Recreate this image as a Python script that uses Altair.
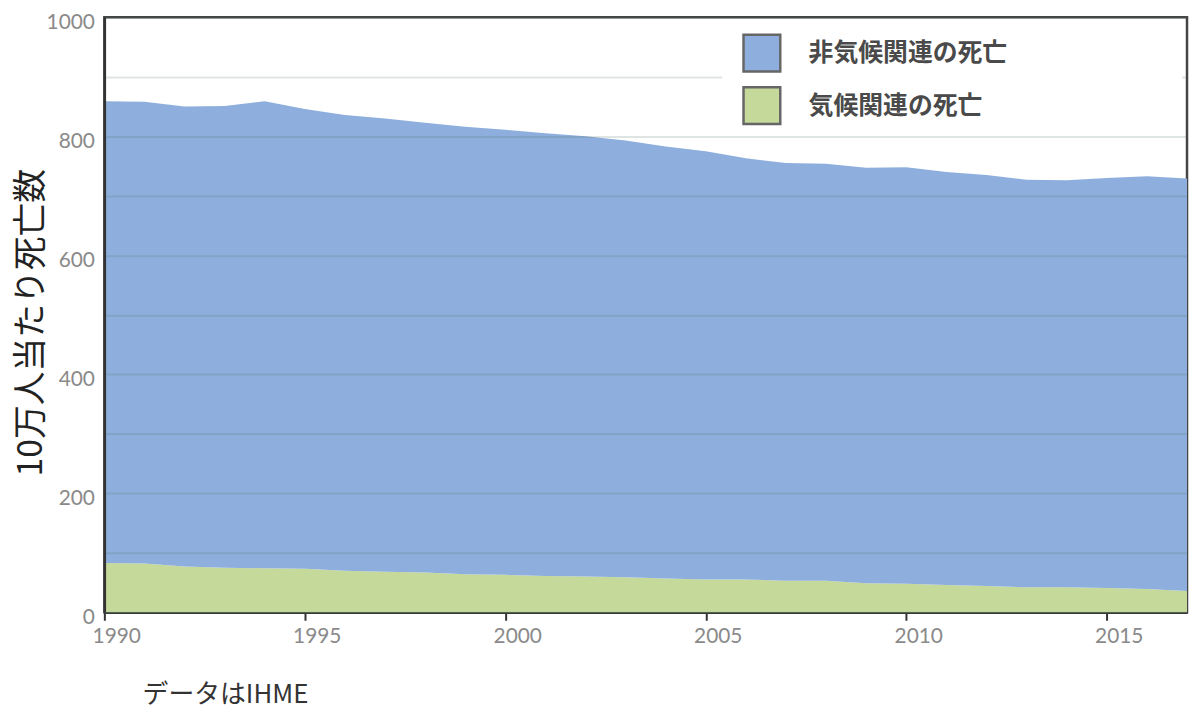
import altair as alt
import pandas as pd

years = list(range(1990, 2018))
non_climate = [776, 776, 773, 776, 785, 773, 766, 762, 756, 752, 748, 744, 740, 734,
               726, 720, 708, 702, 701, 698, 700, 694, 691, 685, 684, 689, 694, 693]
climate = [83, 82, 77, 75, 74, 73, 70, 68, 67, 64, 63, 61, 60, 59,
           57, 55, 55, 53, 53, 49, 48, 46, 44, 42, 42, 41, 39, 36]
series_names = ["非気候関連の死亡", "気候関連の死亡"]
series_colors = ["#8EAFDD", "#C5D99B"]
x_ticks = [1990, 1995, 2000, 2005, 2010, 2015]
y_ticks = list(range(0, 1001, 100))

rows = []
for i, y in enumerate(years):
    rows.append({"year": y, "series": series_names[1], "value": climate[i], "rank": 0})
    rows.append({"year": y, "series": series_names[0], "value": non_climate[i], "rank": 1})
df = pd.DataFrame(rows)

pad = "  " + "\u2800" * 9

chart = alt.Chart(df).mark_area(opacity=1).encode(
    x=alt.X("year:Q",
            scale=alt.Scale(domain=[1990, 2017], nice=False, zero=False),
            axis=alt.Axis(values=x_ticks, format="d", grid=False, labelFlush=False,
                          tickSize=8, tickWidth=2, tickColor="#333",
                          domainColor="#333", domainWidth=2.5,
                          labelColor="#8a8a8a", labelFontSize=21, labelFont="Lato",
                          labelPadding=5, labelOffset=12,
                          title="データはIHME", titleX=38, titleY=83,
                          titleAlign="left", titleBaseline="middle", titleAngle=0,
                          titleFont="Noto Sans CJK JP", titleFontSize=26,
                          titleFontWeight="normal", titleColor="#333")),
    y=alt.Y("value:Q", stack="zero",
            scale=alt.Scale(domain=[0, 1000], nice=False),
            axis=alt.Axis(values=y_ticks, format="d",
                          labelExpr="datum.value % 200 == 0 ? datum.label : ''",
                          grid=True, gridColor="#4f7060", gridOpacity=0.18, gridWidth=2,
                          ticks=False, domainColor="#333", domainWidth=2.5,
                          labelColor="#8a8a8a", labelFontSize=21, labelFont="Lato",
                          labelPadding=10, labelOffset=5, zindex=1,
                          title="10万人当たり死亡数", titleX=-73, titleY=307,
                          titleAngle=270, titleAlign="center", titleBaseline="middle",
                          titleFont="Noto Sans CJK JP", titleFontSize=34,
                          titleFontWeight="normal", titleColor="#222")),
    color=alt.Color("series:N",
                    scale=alt.Scale(domain=series_names, range=series_colors),
                    legend=alt.Legend(title=None, orient="none", legendX=622, legendY=14,
                                      fillColor="white", padding=2, zindex=2,
                                      symbolType="square", symbolSize=1369,
                                      symbolStrokeColor="#666", symbolStrokeWidth=2.5,
                                      symbolOpacity=1, symbolOffset=18,
                                      labelOffset=27, rowPadding=5,
                                      labelFont="Noto Sans CJK JP", labelFontSize=25,
                                      labelFontWeight="bold", labelColor="#4a4a4a",
                                      labelLimit=600,
                                      labelExpr="datum.label + '" + pad + "'")),
    order=alt.Order("rank:Q"),
).properties(
    width=1090, height=599,
    autosize=alt.AutoSizeParams(type="none"),
    padding={"left": 97, "top": 7, "right": 2, "bottom": 100},
).configure_view(
    stroke="#444", strokeWidth=2.5
)

chart.save("out.html", embed_options={"renderer": "svg", "actions": False})
